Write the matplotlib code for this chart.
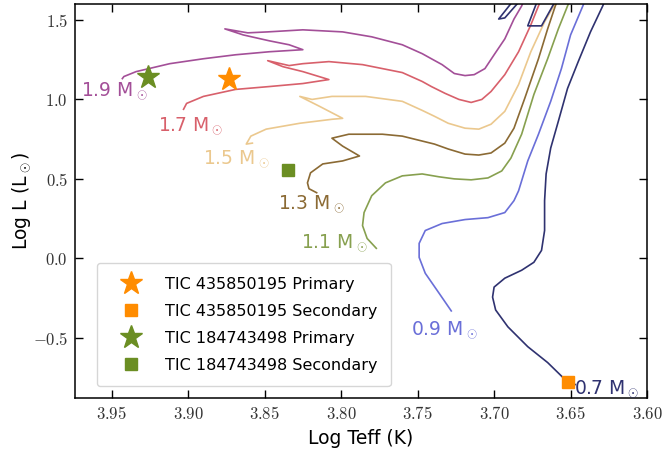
import matplotlib
matplotlib.use("Agg")
import matplotlib.pyplot as plt
from matplotlib.ticker import FuncFormatter, MultipleLocator

plt.rcParams["mathtext.fontset"] = "cm"
plt.rcParams["font.family"] = ["DejaVu Sans"]

# Pre-main-sequence evolutionary tracks (log Teff, log L), one per mass
masses = ["1.9", "1.7", "1.5", "1.3", "1.1", "0.9", "0.7"]
track_colors = ["#a34f98", "#d8606b", "#ebc88e", "#8b6a34", "#87a04f", "#6a6fd8", "#2f3270"]

teff_19 = [3.677, 3.682, 3.687, 3.693, 3.700, 3.706, 3.713, 3.719, 3.726, 3.734, 3.741, 3.747,
           3.760, 3.780, 3.799, 3.825, 3.848, 3.861, 3.876, 3.864, 3.847, 3.834, 3.825, 3.847,
           3.869, 3.890, 3.912, 3.934, 3.942, 3.943]
logl_19 = [1.706, 1.588, 1.506, 1.381, 1.281, 1.194, 1.156, 1.150, 1.163, 1.219, 1.256, 1.288,
           1.344, 1.394, 1.425, 1.438, 1.425, 1.419, 1.444, 1.406, 1.369, 1.344, 1.313, 1.300,
           1.281, 1.256, 1.225, 1.175, 1.144, 1.131]

teff_17 = [3.666, 3.671, 3.676, 3.684, 3.693, 3.702, 3.708, 3.715, 3.723, 3.732, 3.741, 3.747,
           3.760, 3.786, 3.808, 3.825, 3.834, 3.848, 3.838, 3.825, 3.808, 3.825, 3.847, 3.869,
           3.890, 3.901, 3.903]
logl_17 = [1.706, 1.588, 1.469, 1.300, 1.156, 1.050, 1.000, 0.981, 1.000, 1.038, 1.081, 1.113,
           1.169, 1.219, 1.238, 1.225, 1.213, 1.244, 1.206, 1.175, 1.125, 1.100, 1.081, 1.063,
           1.019, 0.975, 0.938]

teff_15 = [3.656, 3.661, 3.667, 3.676, 3.684, 3.693, 3.702, 3.710, 3.719, 3.730, 3.739, 3.747,
           3.760, 3.784, 3.806, 3.819, 3.827, 3.814, 3.799, 3.806, 3.827, 3.849, 3.859, 3.862,
           3.858]
logl_15 = [1.706, 1.588, 1.488, 1.300, 1.094, 0.925, 0.844, 0.813, 0.819, 0.850, 0.894, 0.931,
           0.988, 1.019, 1.019, 1.000, 1.019, 0.956, 0.881, 0.875, 0.850, 0.813, 0.769, 0.719,
           0.725]

teff_13 = [3.655, 3.660, 3.665, 3.671, 3.680, 3.687, 3.693, 3.702, 3.710, 3.719, 3.730, 3.739,
           3.747, 3.760, 3.773, 3.795, 3.806, 3.799, 3.788, 3.799, 3.812, 3.820, 3.822, 3.821,
           3.816]
logl_13 = [1.706, 1.588, 1.444, 1.256, 1.006, 0.819, 0.725, 0.663, 0.650, 0.656, 0.688, 0.719,
           0.738, 0.769, 0.781, 0.781, 0.756, 0.706, 0.644, 0.613, 0.594, 0.538, 0.475, 0.438,
           0.413]

teff_11 = [3.647, 3.652, 3.658, 3.665, 3.674, 3.682, 3.689, 3.695, 3.704, 3.715, 3.726, 3.736,
           3.747, 3.760, 3.771, 3.780, 3.785, 3.786, 3.783, 3.777]
logl_11 = [1.706, 1.588, 1.444, 1.256, 1.031, 0.781, 0.631, 0.550, 0.506, 0.494, 0.500, 0.513,
           0.531, 0.519, 0.475, 0.394, 0.288, 0.206, 0.125, 0.063]

teff_09 = [3.637, 3.642, 3.650, 3.656, 3.663, 3.671, 3.678, 3.684, 3.687, 3.693, 3.704, 3.719,
           3.734, 3.745, 3.749, 3.749, 3.745, 3.736, 3.728]
logl_09 = [1.706, 1.588, 1.406, 1.194, 0.988, 0.781, 0.613, 0.425, 0.363, 0.288, 0.256, 0.244,
           0.219, 0.175, 0.094, 0.006, -0.094, -0.219, -0.331]

teff_07 = [3.682, 3.697, 3.693, 3.677, 3.669, 3.678, 3.669, 3.656, 3.624, 3.629, 3.637, 3.645,
           3.652, 3.658, 3.663, 3.666, 3.667, 3.667, 3.667, 3.669, 3.674, 3.682, 3.693, 3.700,
           3.701, 3.699, 3.691, 3.678, 3.665, 3.655, 3.647]
logl_07 = [1.688, 1.506, 1.513, 1.688, 1.688, 1.463, 1.463, 1.688, 1.706, 1.588, 1.425, 1.238,
           1.069, 0.863, 0.694, 0.531, 0.363, 0.319, 0.175, 0.050, -0.025, -0.075, -0.125, -0.181,
           -0.244, -0.325, -0.431, -0.556, -0.656, -0.750, -0.794]

tracks_teff = [teff_19, teff_17, teff_15, teff_13, teff_11, teff_09, teff_07]
tracks_logl = [logl_19, logl_17, logl_15, logl_13, logl_11, logl_09, logl_07]

# Track label anchor positions (left edge, vertical centre)
label_teff = [3.970, 3.920, 3.890, 3.841, 3.826, 3.754, 3.648]
label_logl = [1.05, 0.831, 0.625, 0.338, 0.094, -0.456, -0.825]

# Binary components
star_names = ["TIC 435850195 Primary", "TIC 435850195 Secondary",
              "TIC 184743498 Primary", "TIC 184743498 Secondary"]
star_teff = [3.873, 3.652, 3.926, 3.835]
star_logl = [1.131, -0.78, 1.144, 0.556]
star_colors = ["#ff8c00", "#ff8c00", "#6b8e23", "#6b8e23"]
star_markers = ["*", "s", "*", "s"]
star_sizes = [17, 8, 17, 8]

fig = plt.figure(figsize=(6.63, 4.54), dpi=100)
ax = fig.add_axes([0.113, 0.123, 0.863, 0.868])

for t, l, c in zip(tracks_teff, tracks_logl, track_colors):
    ax.plot(t, l, color=c, lw=1.2, zorder=2, solid_joinstyle="round")

for m, t, l, c in zip(masses, label_teff, label_logl, track_colors):
    ax.text(t, l, m + r" M$_\odot$", color=c, fontsize=13.5, ha="left", va="center", zorder=3)

for name, t, l, c, mk, ms in zip(star_names, star_teff, star_logl, star_colors, star_markers, star_sizes):
    ax.plot([t], [l], linestyle="none", marker=mk, color=c, markersize=ms, label=name, zorder=4)

ax.set_xlim(3.974, 3.60)
ax.set_ylim(-0.88, 1.6)
ax.xaxis.set_major_locator(MultipleLocator(0.05))
ax.yaxis.set_major_locator(MultipleLocator(0.5))
ax.xaxis.set_major_formatter(FuncFormatter(lambda v, p: r"$%.2f$" % v))
ax.yaxis.set_major_formatter(FuncFormatter(lambda v, p: r"$%.1f$" % (0.0 if abs(v) < 1e-9 else v)))
ax.tick_params(which="major", direction="in", top=True, right=True, length=6, width=1,
               labelsize=12, pad=5, labelcolor="#333333")
for s in ax.spines.values():
    s.set_linewidth(1.1)

ax.set_xlabel("Log Teff (K)", fontsize=13.5, labelpad=4)
ax.set_ylabel(r"Log L (L$_\odot$)", fontsize=13.5, labelpad=0)

leg = ax.legend(loc="lower left", bbox_to_anchor=(0.038, 0.03), borderaxespad=0,
                fontsize=11.5, handlelength=2.6, handletextpad=0.8, borderpad=0.85,
                labelspacing=0.75, frameon=True, fancybox=True)
leg.get_frame().set_edgecolor("#cccccc")

fig.savefig("out.png", dpi=100)
